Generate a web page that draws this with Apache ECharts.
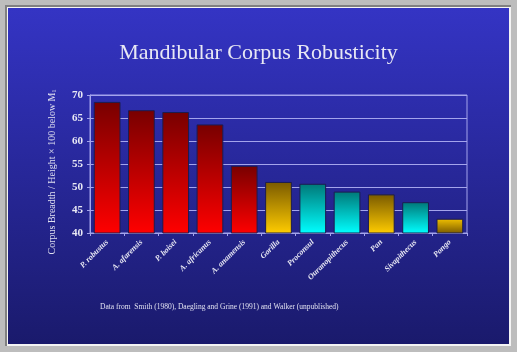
<!DOCTYPE html>
<html>
<head>
<meta charset="utf-8">
<script src="https://cdn.jsdelivr.net/npm/echarts@6/dist/echarts.min.js"></script>
<style>
  html, body { margin: 0; padding: 0; }
  body { width: 517px; height: 352px; background: #bdbdbd; position: relative; overflow: hidden; }
  .frame { position: absolute; left: 5px; top: 5px; width: 506px; height: 341px; background: #808080; }
  .edge { position: absolute; left: 7px; top: 7px; width: 504px; height: 339px; background: #f4f4f4; }
  #main { position: absolute; left: 8px; top: 8px; width: 501px; height: 336px;
          box-shadow: inset 0 2px 0 #0000ff, inset -2px 0 0 #0000ff; }
</style>
</head>
<body>
<div class="frame"></div>
<div class="edge"></div>
<div id="main"></div>
<script>
// taxa, bar heights and colour group
var categories = ['P. robustus', 'A. afarensis', 'P. boisei', 'A. africanus', 'A. anamensis',
  'Gorilla', 'Proconsul', 'Ouranopithecus', 'Pan', 'Sivapithecus', 'Pongo']
var values = [68.5, 66.7, 66.3, 63.6, 54.6, 51.1, 50.7, 49.0, 48.4, 46.7, 43.1]
var groups = ['red', 'red', 'red', 'red', 'red', 'gold', 'cyan', 'cyan', 'gold', 'cyan', 'goldFlip']
var yTicks = [40, 45, 50, 55, 60, 65, 70]

function grad (top, bottom) {
  return new echarts.graphic.LinearGradient(0, 0, 0, 1, [
    { offset: 0, color: top },
    { offset: 1, color: bottom }
  ])
}
var fills = {
  red: ['#780000', '#ff0000'],
  gold: ['#7a5a00', '#ffcc00'],
  cyan: ['#007878', '#00ffff'],
  goldFlip: ['#f0c000', '#7a5a00']
}

var myChart = echarts.init(document.getElementById('main'))
var option = {
  backgroundColor: grad('#3434c4', '#1a1a6c'),
  animation: false,
  title: {
    text: 'Mandibular Corpus Robusticity',
    left: 'center',
    top: 29,
    textStyle: {
      color: '#e8e8f4',
      fontFamily: 'Liberation Serif',
      fontWeight: 'normal',
      fontSize: 22
    }
  },
  graphic: [{
    type: 'text',
    left: 92,
    top: 295,
    style: {
      text: 'Data from  Smith (1980), Daegling and Grine (1991) and Walker (unpublished)',
      fill: '#e0e0f0',
      font: '7.5px "Liberation Serif"'
    }
  }],
  grid: {
    left: 82,
    top: 87,
    width: 377,
    height: 138,
    show: true,
    borderColor: '#a4a4ec',
    borderWidth: 1
  },
  xAxis: {
    type: 'category',
    data: categories,
    axisLine: { lineStyle: { color: '#a4a4ec' } },
    axisTick: { show: true, length: 3, lineStyle: { color: '#a4a4ec' } },
    axisLabel: {
      rotate: 45,
      margin: 8,
      interval: 0,
      color: '#e8e8f4',
      fontFamily: 'Liberation Serif',
      fontStyle: 'italic',
      fontWeight: 'bold',
      fontSize: 8
    }
  },
  yAxis: {
    type: 'value',
    min: yTicks[0],
    max: yTicks[yTicks.length - 1],
    interval: 5,
    name: '{n|Corpus Breadth / Height \u00d7 100 below M}{s|1}',
    nameLocation: 'middle',
    nameRotate: 90,
    nameGap: 33,
    nameTextStyle: {
      padding: [0, 0, 0, -16],
      rich: {
        n: { color: '#e0e0f0', fontFamily: 'Liberation Serif', fontSize: 10 },
        s: { color: '#e0e0f0', fontFamily: 'Liberation Serif', fontSize: 6, verticalAlign: 'bottom', padding: [4, 0, 0, 0] }
      }
    },
    axisLine: { show: true, lineStyle: { color: '#a4a4ec' } },
    axisTick: { show: true, length: 3, lineStyle: { color: '#a4a4ec' } },
    splitLine: { lineStyle: { color: '#a4a4ec' } },
    axisLabel: {
      margin: 7,
      color: '#e8e8f4',
      fontFamily: 'Liberation Serif',
      fontWeight: 'bold',
      fontSize: 11
    }
  },
  series: [{
    type: 'bar',
    barCategoryGap: '22%',
    data: values.map(function (v, i) {
      var f = fills[groups[i]]
      return {
        value: v,
        itemStyle: { color: grad(f[0], f[1]), borderColor: '#1c1c50', borderWidth: 1 }
      }
    })
  }]
}
option && myChart.setOption(option)
</script>
</body>
</html>
